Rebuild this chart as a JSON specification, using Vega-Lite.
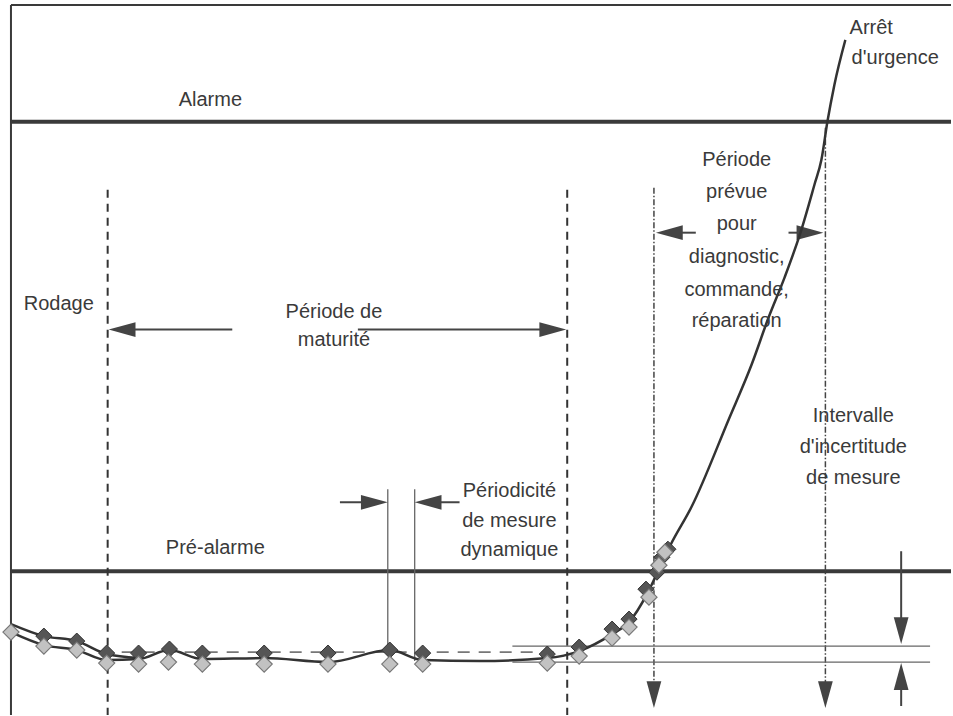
{
  "$schema": "https://vega.github.io/schema/vega-lite/v6.json",
  "width": 953,
  "height": 716,
  "autosize": {"type": "fit", "contains": "padding"},
  "padding": 0,
  "background": "white",
  "config": {"view": {"stroke": null}, "axis": {"disable": true}},
  "datasets": {
    "cadre": [
      {"x": 10, "y": 5, "x2": 953, "y2": 5},
      {"x": 10, "y": 5, "x2": 10, "y2": 716}
    ],
    "seuils": [
      {"nom": "Alarme", "x": 10, "y": 122, "x2": 953, "y2": 122},
      {"nom": "Pré-alarme", "x": 10, "y": 572, "x2": 953, "y2": 572}
    ],
    "phases": [
      {"x": 107, "y": 190, "x2": 107, "y2": 716},
      {"x": 568, "y": 190, "x2": 568, "y2": 716}
    ],
    "delais": [
      {"x": 655, "y": 188, "x2": 655, "y2": 700},
      {"x": 827, "y": 128, "x2": 827, "y2": 700}
    ],
    "fins": [
      {"x": 388, "y": 490, "x2": 388, "y2": 648},
      {"x": 415, "y": 490, "x2": 415, "y2": 662},
      {"x": 513, "y": 647, "x2": 932, "y2": 647},
      {"x": 513, "y": 663, "x2": 932, "y2": 663}
    ],
    "moyenne": [
      {"x": 100, "y": 653, "x2": 560, "y2": 653}
    ],
    "fleches": [
      {"x": 232, "y": 330, "x2": 120, "y2": 330},
      {"x": 358, "y": 330, "x2": 555, "y2": 330},
      {"x": 340, "y": 503, "x2": 376, "y2": 503},
      {"x": 460, "y": 503, "x2": 427, "y2": 503},
      {"x": 697, "y": 233, "x2": 668, "y2": 233},
      {"x": 790, "y": 233, "x2": 813, "y2": 233},
      {"x": 903, "y": 552, "x2": 903, "y2": 632},
      {"x": 903, "y": 707, "x2": 903, "y2": 676}
    ],
    "pointes": [
      {"x": 108, "y": 330, "dir": "l"},
      {"x": 567, "y": 330, "dir": "r"},
      {"x": 388, "y": 503, "dir": "r"},
      {"x": 415, "y": 503, "dir": "l"},
      {"x": 657, "y": 233, "dir": "l"},
      {"x": 825, "y": 233, "dir": "r"},
      {"x": 655, "y": 709, "dir": "d"},
      {"x": 827, "y": 709, "dir": "d"},
      {"x": 903, "y": 645, "dir": "d"},
      {"x": 903, "y": 664, "dir": "u"}
    ],
    "courbe_haute": [
      {"x": 10, "y": 625},
      {"x": 43, "y": 637},
      {"x": 76, "y": 642},
      {"x": 106, "y": 655},
      {"x": 138, "y": 659}
    ],
    "courbe": [
      {"x": 10, "y": 633},
      {"x": 43, "y": 646},
      {"x": 76, "y": 651},
      {"x": 106, "y": 661},
      {"x": 138, "y": 660},
      {"x": 169, "y": 651},
      {"x": 202, "y": 660},
      {"x": 264, "y": 659},
      {"x": 328, "y": 663},
      {"x": 390, "y": 651},
      {"x": 423, "y": 661},
      {"x": 480, "y": 662},
      {"x": 548, "y": 659},
      {"x": 580, "y": 652},
      {"x": 613, "y": 635},
      {"x": 630, "y": 623},
      {"x": 648, "y": 595},
      {"x": 660, "y": 570},
      {"x": 672, "y": 545},
      {"x": 693, "y": 507},
      {"x": 730, "y": 420},
      {"x": 753, "y": 365},
      {"x": 770, "y": 318},
      {"x": 786, "y": 278},
      {"x": 802, "y": 233},
      {"x": 816, "y": 185},
      {"x": 823, "y": 160},
      {"x": 829, "y": 122},
      {"x": 836, "y": 85},
      {"x": 847, "y": 40}
    ],
    "mesures_fonce": [
      {"x": 43, "y": 637},
      {"x": 76, "y": 642},
      {"x": 106, "y": 654},
      {"x": 138, "y": 654},
      {"x": 169, "y": 650},
      {"x": 202, "y": 654},
      {"x": 264, "y": 654},
      {"x": 328, "y": 654},
      {"x": 390, "y": 651},
      {"x": 423, "y": 654},
      {"x": 548, "y": 655},
      {"x": 580, "y": 648},
      {"x": 613, "y": 630},
      {"x": 630, "y": 620},
      {"x": 647, "y": 590},
      {"x": 658, "y": 573},
      {"x": 663, "y": 558},
      {"x": 669, "y": 550}
    ],
    "mesures_claire": [
      {"x": 10, "y": 633},
      {"x": 43, "y": 647},
      {"x": 76, "y": 651},
      {"x": 106, "y": 664},
      {"x": 138, "y": 665},
      {"x": 168, "y": 663},
      {"x": 202, "y": 665},
      {"x": 264, "y": 665},
      {"x": 328, "y": 665},
      {"x": 390, "y": 665},
      {"x": 423, "y": 665},
      {"x": 548, "y": 664},
      {"x": 580, "y": 657},
      {"x": 613, "y": 639},
      {"x": 630, "y": 628},
      {"x": 650, "y": 598},
      {"x": 660, "y": 566},
      {"x": 666, "y": 553}
    ],
    "textes": [
      {"x": 210, "y": 100, "t": "Alarme"},
      {"x": 215, "y": 549, "t": "Pré-alarme"},
      {"x": 58, "y": 304, "t": "Rodage"},
      {"x": 334, "y": 312, "t": "Période de"},
      {"x": 334, "y": 340, "t": "maturité"},
      {"x": 510, "y": 492, "t": "Périodicité"},
      {"x": 510, "y": 522, "t": "de mesure"},
      {"x": 510, "y": 551, "t": "dynamique"},
      {"x": 738, "y": 160, "t": "Période"},
      {"x": 738, "y": 192, "t": "prévue"},
      {"x": 738, "y": 224, "t": "pour"},
      {"x": 738, "y": 257, "t": "diagnostic,"},
      {"x": 738, "y": 290, "t": "commande,"},
      {"x": 738, "y": 321, "t": "réparation"},
      {"x": 855, "y": 417, "t": "Intervalle"},
      {"x": 855, "y": 448, "t": "d'incertitude"},
      {"x": 855, "y": 479, "t": "de mesure"},
      {"x": 873, "y": 28, "t": "Arrêt"},
      {"x": 897, "y": 58, "t": "d'urgence"}
    ]
  },
  "layer": [
    {
      "data": {"name": "cadre"},
      "mark": {"type": "rule", "color": "#3a3a3a", "strokeWidth": 2},
      "encoding": {
        "x": {"field": "x", "type": "quantitative", "scale": {"domain": [0, 953], "nice": false, "zero": false}, "axis": null},
        "y": {"field": "y", "type": "quantitative", "scale": {"domain": [0, 716], "nice": false, "zero": false, "reverse": true}, "axis": null},
        "x2": {"field": "x2"},
        "y2": {"field": "y2"}
      }
    },
    {
      "data": {"name": "seuils"},
      "mark": {"type": "rule", "color": "#3a3a3a", "strokeWidth": 4},
      "encoding": {
        "x": {"field": "x", "type": "quantitative"},
        "y": {"field": "y", "type": "quantitative"},
        "x2": {"field": "x2"},
        "y2": {"field": "y2"}
      }
    },
    {
      "data": {"name": "phases"},
      "mark": {"type": "rule", "color": "#333333", "strokeWidth": 2, "strokeDash": [8, 6]},
      "encoding": {
        "x": {"field": "x", "type": "quantitative"},
        "y": {"field": "y", "type": "quantitative"},
        "x2": {"field": "x2"},
        "y2": {"field": "y2"}
      }
    },
    {
      "data": {"name": "delais"},
      "mark": {"type": "rule", "color": "#444444", "strokeWidth": 1.5, "strokeDash": [6, 2, 1.5, 2]},
      "encoding": {
        "x": {"field": "x", "type": "quantitative"},
        "y": {"field": "y", "type": "quantitative"},
        "x2": {"field": "x2"},
        "y2": {"field": "y2"}
      }
    },
    {
      "data": {"name": "fins"},
      "mark": {"type": "rule", "color": "#666666", "strokeWidth": 1.3},
      "encoding": {
        "x": {"field": "x", "type": "quantitative"},
        "y": {"field": "y", "type": "quantitative"},
        "x2": {"field": "x2"},
        "y2": {"field": "y2"}
      }
    },
    {
      "data": {"name": "moyenne"},
      "mark": {"type": "rule", "color": "#777777", "strokeWidth": 1.8, "strokeDash": [12, 9]},
      "encoding": {
        "x": {"field": "x", "type": "quantitative"},
        "y": {"field": "y", "type": "quantitative"},
        "x2": {"field": "x2"},
        "y2": {"field": "y2"}
      }
    },
    {
      "data": {"name": "fleches"},
      "mark": {"type": "rule", "color": "#444444", "strokeWidth": 2},
      "encoding": {
        "x": {"field": "x", "type": "quantitative"},
        "y": {"field": "y", "type": "quantitative"},
        "x2": {"field": "x2"},
        "y2": {"field": "y2"}
      }
    },
    {
      "data": {"name": "pointes"},
      "mark": {"type": "point", "filled": true, "color": "#444444", "opacity": 1, "size": 180},
      "encoding": {
        "x": {"field": "x", "type": "quantitative"},
        "y": {"field": "y", "type": "quantitative"},
        "shape": {
          "field": "dir",
          "type": "nominal",
          "legend": null,
          "scale": {
            "domain": ["r", "l", "d", "u"],
            "range": ["M0,0L-4,-1.1L-4,1.1Z", "M0,0L4,-1.1L4,1.1Z", "M0,0L-1.1,-4L1.1,-4Z", "M0,0L-1.1,4L1.1,4Z"]
          }
        }
      }
    },
    {
      "data": {"name": "courbe_haute"},
      "mark": {"type": "line", "color": "#333333", "strokeWidth": 2.5, "interpolate": "monotone"},
      "encoding": {
        "x": {"field": "x", "type": "quantitative"},
        "y": {"field": "y", "type": "quantitative"}
      }
    },
    {
      "data": {"name": "courbe"},
      "mark": {"type": "line", "color": "#333333", "strokeWidth": 2.5, "interpolate": "monotone"},
      "encoding": {
        "x": {"field": "x", "type": "quantitative", "sort": null},
        "y": {"field": "y", "type": "quantitative"}
      }
    },
    {
      "data": {"name": "mesures_fonce"},
      "mark": {"type": "point", "shape": "diamond", "filled": true, "size": 260, "fill": "#555555", "stroke": "#333333", "strokeWidth": 1, "opacity": 1},
      "encoding": {
        "x": {"field": "x", "type": "quantitative"},
        "y": {"field": "y", "type": "quantitative"}
      }
    },
    {
      "data": {"name": "mesures_claire"},
      "mark": {"type": "point", "shape": "diamond", "filled": true, "size": 260, "fill": "#c2c2c2", "stroke": "#777777", "strokeWidth": 1.2, "opacity": 1},
      "encoding": {
        "x": {"field": "x", "type": "quantitative"},
        "y": {"field": "y", "type": "quantitative"}
      }
    },
    {
      "data": {"name": "textes"},
      "mark": {"type": "text", "font": "Liberation Sans", "fontSize": 20, "color": "#3a3a3a", "align": "center", "baseline": "middle"},
      "encoding": {
        "x": {"field": "x", "type": "quantitative"},
        "y": {"field": "y", "type": "quantitative"},
        "text": {"field": "t"}
      }
    }
  ]
}
